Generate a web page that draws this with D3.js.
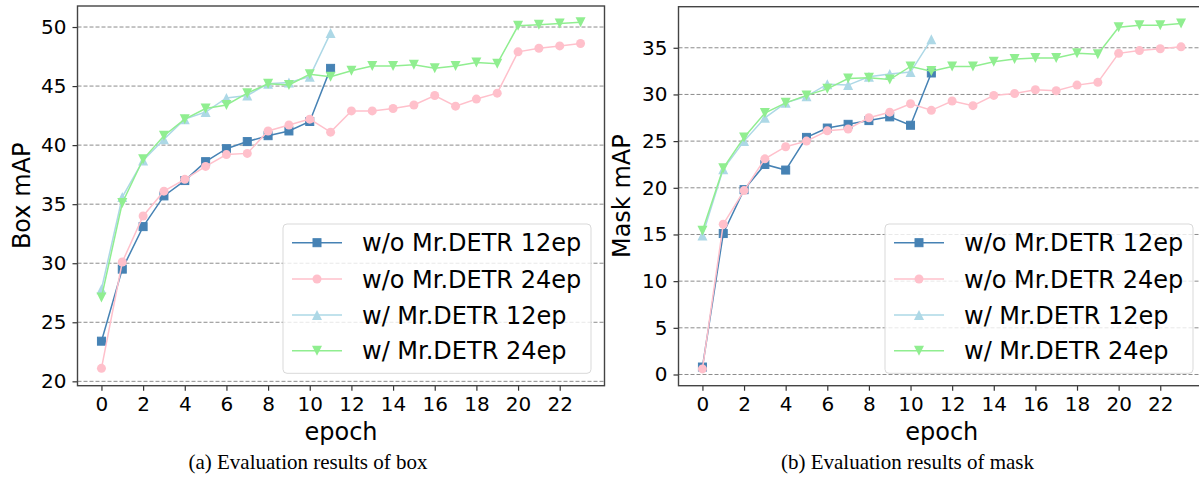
<!DOCTYPE html>
<html>
<head>
<meta charset="utf-8">
<script src="https://cdn.jsdelivr.net/npm/d3@7"></script>
<style>
  body { margin: 0; background: #fff; }
  svg { display: block; }
  .tick text { font-family: "DejaVu Sans", sans-serif; font-size: 20px; fill: #000; }
</style>
</head>
<body>
<div class="chart"></div>
<script>
var svgWidth = 1199;
var svgHeight = 479;

// epochs and series names
var epochs = d3.range(0, 24);
var seriesNames = ["w/o Mr.DETR 12ep", "w/o Mr.DETR 24ep", "w/ Mr.DETR 12ep", "w/ Mr.DETR 24ep"];
var xTicks = [0, 2, 4, 6, 8, 10, 12, 14, 16, 18, 20, 22];

// box mAP
var boxWo12 = [23.4, 29.5, 33.1, 35.7, 37.0, 38.6, 39.7, 40.3, 40.8, 41.2, 42.0, 46.5];
var boxWo24 = [21.1, 30.1, 34.0, 36.1, 37.1, 38.2, 39.2, 39.3, 41.2, 41.7, 42.2, 41.1,
               42.9, 42.9, 43.1, 43.4, 44.2, 43.3, 43.9, 44.4, 47.9, 48.2, 48.4, 48.6];
var boxW12 = [27.8, 35.6, 38.7, 40.5, 42.2, 42.8, 44.0, 44.2, 45.2, 45.3, 45.8, 49.5];
var boxW24 = [27.1, 35.1, 38.8, 40.8, 42.2, 43.1, 43.4, 44.4, 45.2, 45.1, 46.0, 45.8,
              46.3, 46.7, 46.7, 46.8, 46.5, 46.7, 47.0, 46.9, 50.1, 50.2, 50.3, 50.4];
var boxTicks = [20, 25, 30, 35, 40, 45, 50];

// mask mAP
var maskWo12 = [0.8, 15.1, 19.8, 22.5, 21.9, 25.4, 26.4, 26.8, 27.2, 27.6, 26.7, 32.3];
var maskWo24 = [0.6, 16.1, 19.7, 23.1, 24.4, 25.0, 26.1, 26.3, 27.5, 28.1, 29.0, 28.3,
                29.3, 28.8, 29.9, 30.1, 30.5, 30.4, 31.0, 31.3, 34.4, 34.7, 34.9, 35.1];
var maskW12 = [14.9, 22.0, 25.0, 27.5, 29.1, 29.8, 31.1, 31.0, 31.9, 32.2, 32.4, 35.9];
var maskW24 = [15.4, 22.1, 25.4, 28.0, 29.1, 29.9, 30.6, 31.7, 31.8, 31.6, 33.0, 32.5,
               33.0, 33.0, 33.5, 33.8, 33.9, 33.9, 34.4, 34.3, 37.2, 37.4, 37.4, 37.6];
var maskTicks = [0, 5, 10, 15, 20, 25, 30, 35];

var colors = ["#4682b4", "#ffc0cb", "#add8e6", "#90ee90"];
var symbols = ["square", "circle", "up", "down"];

var svg = d3.select(".chart")
  .append("svg")
  .attr("width", svgWidth)
  .attr("height", svgHeight);

function drawMarker(g, kind, x, y, color) {
  if (kind === "square") {
    g.append("rect").attr("x", x - 4).attr("y", y - 4).attr("width", 8).attr("height", 8)
      .attr("fill", color).attr("stroke", color).attr("stroke-width", 1);
  } else if (kind === "circle") {
    g.append("circle").attr("cx", x).attr("cy", y).attr("r", 4.5).attr("fill", color);
  } else if (kind === "up") {
    g.append("path").attr("d", `M${x},${y - 5}L${x - 5},${y + 5}L${x + 5},${y + 5}Z`).attr("fill", color);
  } else {
    g.append("path").attr("d", `M${x},${y + 5}L${x - 5},${y - 5}L${x + 5},${y - 5}Z`).attr("fill", color);
  }
}

function panel(p) {
  var x = d3.scaleLinear().domain([-1.15, 24.15]).range([p.left, p.right]);
  var y = d3.scaleLinear().domain(p.yDomain).range([385.7, p.top]);
  var g = svg.append("g");

  // dashed grid
  g.selectAll(".grid").data(p.yTicks).enter().append("line")
    .attr("x1", p.left).attr("x2", p.right)
    .attr("y1", d => y(d)).attr("y2", d => y(d))
    .attr("stroke", "#8c8c8c").attr("stroke-width", 1).attr("stroke-dasharray", "4,2");

  // series
  p.series.forEach(function(vals, i) {
    var line = d3.line().x((d, j) => x(epochs[j])).y(d => y(d));
    g.append("path").datum(vals).attr("d", line)
      .attr("fill", "none").attr("stroke", colors[i]).attr("stroke-width", 1.5);
    vals.forEach(function(v, j) { drawMarker(g, symbols[i], x(epochs[j]), y(v), colors[i]); });
  });

  // axes
  var xAxis = g.append("g").attr("transform", "translate(0,385.7)")
    .call(d3.axisBottom(x).tickValues(xTicks).tickSize(5).tickPadding(6));
  var yAxis = g.append("g").attr("transform", `translate(${p.left},0)`)
    .call(d3.axisLeft(y).tickValues(p.yTicks).tickSize(5).tickPadding(6));
  [xAxis, yAxis].forEach(function(a) {
    a.select(".domain").remove();
    a.selectAll(".tick line").attr("stroke", "#333").attr("stroke-width", 1.2);
  });

  g.append("rect")
    .attr("x", p.left).attr("y", p.top)
    .attr("width", p.right - p.left).attr("height", 385.7 - p.top)
    .attr("fill", "none").attr("stroke", "#444").attr("stroke-width", 1.4);

  // legend
  var lg = g.append("g");
  lg.append("rect").attr("x", p.legX).attr("y", 224).attr("width", 308).attr("height", 149.3)
    .attr("rx", 4).attr("fill", "#fff").attr("fill-opacity", 0.8)
    .attr("stroke", "#d9d9d9").attr("stroke-width", 1);
  var rowY = [242.7, 279, 315, 350.7];
  seriesNames.forEach(function(name, i) {
    lg.append("line").attr("x1", p.legX + 9).attr("x2", p.legX + 59)
      .attr("y1", rowY[i]).attr("y2", rowY[i])
      .attr("stroke", colors[i]).attr("stroke-width", 1.5);
    drawMarker(lg, symbols[i], p.legX + 34, rowY[i], colors[i]);
    lg.append("text").attr("x", p.legX + 79).attr("y", rowY[i] + 8.7)
      .attr("font-family", "DejaVu Sans").attr("font-size", "24px")
      .text(name);
  });

  // labels
  g.append("text")
    .attr("transform", `translate(${p.yLabelX},${(p.top + 385.7) / 2}) rotate(-90)`)
    .attr("text-anchor", "middle")
    .attr("font-family", "DejaVu Sans").attr("font-size", "24px")
    .text(p.yLabel);
  g.append("text")
    .attr("x", (p.left + p.right) / 2).attr("y", 440)
    .attr("text-anchor", "middle")
    .attr("font-family", "DejaVu Sans").attr("font-size", "24px")
    .text("epoch");
  g.append("text")
    .attr("x", p.captionX).attr("y", 469)
    .attr("text-anchor", "middle")
    .attr("font-family", "Liberation Serif").attr("font-size", "21px")
    .text(p.caption);
}

panel({
  left: 77.5, right: 604.5, top: 6,
  yDomain: [19.63, 51.78], yTicks: boxTicks,
  series: [boxWo12, boxWo24, boxW12, boxW24],
  legX: 283, yLabelX: 30, yLabel: "Box mAP",
  captionX: 308, caption: "(a) Evaluation results of box"
});

panel({
  left: 678.5, right: 1205, top: 6.7,
  yDomain: [-1.2, 39.4], yTicks: maskTicks,
  series: [maskWo12, maskWo24, maskW12, maskW24],
  legX: 885, yLabelX: 630, yLabel: "Mask mAP",
  captionX: 907.5, caption: "(b) Evaluation results of mask"
});
</script>
</body>
</html>
